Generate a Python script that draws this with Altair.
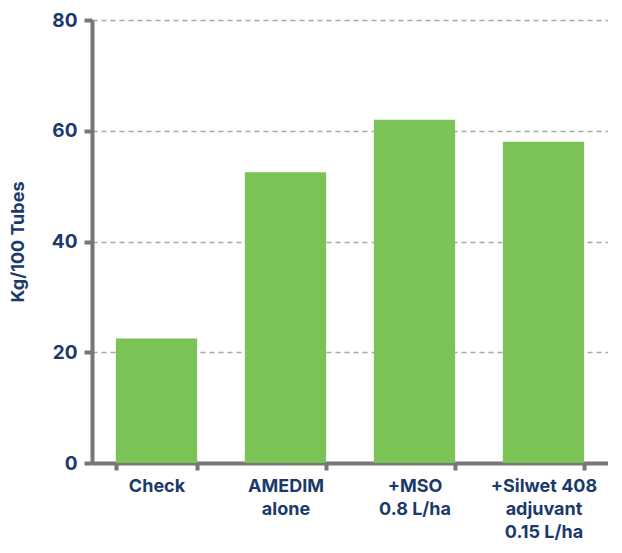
import altair as alt
import pandas as pd

categories = ["Check", "AMEDIM\nalone", "+MSO\n0.8 L/ha", "+Silwet 408\nadjuvant\n0.15 L/ha"]
values = [22.5, 52.5, 62.0, 58.0]

df = pd.DataFrame({"cat": categories, "val": values})

navy = "#1b3a6b"
axis_grey = "#777777"
font = "Inter"

chart = alt.Chart(df).mark_bar(color="#7bc257").encode(
    x=alt.X("cat:N", sort=None, title=None,
            scale=alt.Scale(paddingInner=0.37, paddingOuter=0.185),
            axis=alt.Axis(labelAngle=0, labelExpr="split(datum.label, '\\n')",
                          labelFont=font, labelFontWeight="bold", labelFontSize=18,
                          labelColor=navy, labelLineHeight=23, labelPadding=7,
                          domainColor=axis_grey, domainWidth=4,
                          tickColor=axis_grey, tickWidth=4, tickSize=7,
                          tickBand="extent", grid=False)),
    y=alt.Y("val:Q", title="Kg/100 Tubes",
            scale=alt.Scale(domain=[0, 80]),
            axis=alt.Axis(values=[0, 20, 40, 60, 80],
                          labelFont=font, labelFontWeight="bold", labelFontSize=19,
                          labelColor=navy, labelPadding=7,
                          titleFont=font, titleFontWeight="bold", titleFontSize=18,
                          titleColor=navy, titlePadding=24,
                          domainColor=axis_grey, domainWidth=4,
                          tickColor=axis_grey, tickWidth=4, tickSize=8,
                          grid=True, gridColor="#a8a8a8", gridDash=[5, 4], gridWidth=1.5)),
).properties(width=516, height=443, padding={"left": 1, "top": 3, "right": 0, "bottom": 0}
).configure_view(stroke=None)

chart.save("out.html", embed_options={"renderer": "svg", "actions": False})
